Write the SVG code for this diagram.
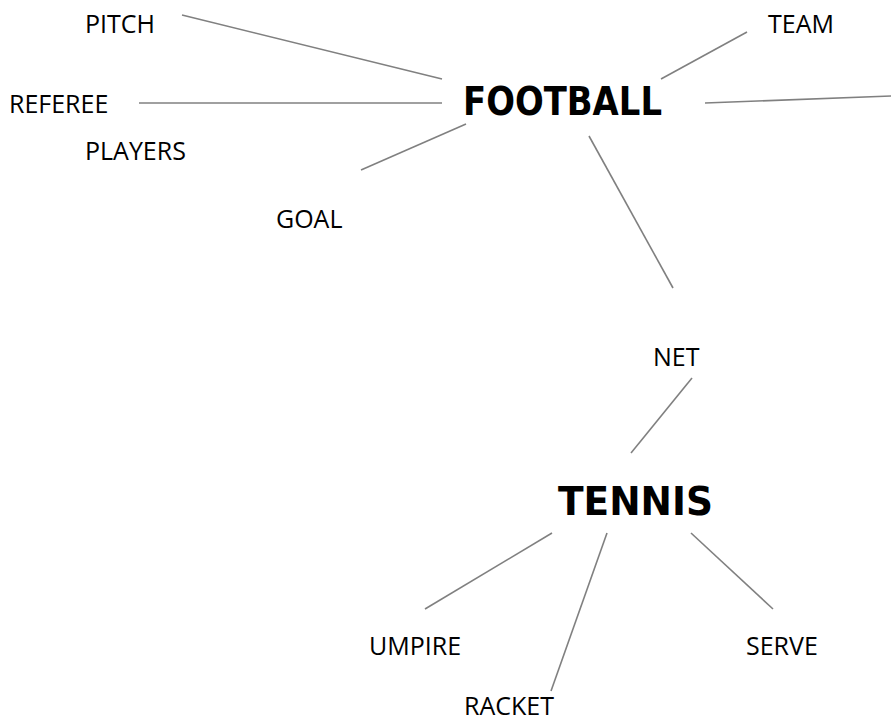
<svg xmlns="http://www.w3.org/2000/svg" width="891" height="724" viewBox="0 0 891 724">
<style>
.lbl{font-family:"Open Sans","Liberation Sans",sans-serif;font-size:25px;fill:#000}
.hub{font-family:"DejaVu Sans","Liberation Sans",sans-serif;font-weight:bold;font-size:39px;fill:#000}
.edge{stroke:#808080;stroke-width:1.6;fill:none}
</style>
<rect width="891" height="724" fill="#fff"/>
<g id="connectors">
<line class="edge" x1="182" y1="15" x2="442" y2="79"/>
<line class="edge" x1="747" y1="32" x2="661" y2="79"/>
<line class="edge" x1="139" y1="103" x2="442" y2="103"/>
<line class="edge" x1="705" y1="103" x2="891" y2="96"/>
<line class="edge" x1="361" y1="170" x2="466" y2="124"/>
<line class="edge" x1="589" y1="136" x2="673" y2="288"/>
<line class="edge" x1="692" y1="378" x2="631" y2="453"/>
<line class="edge" x1="552" y1="533" x2="425" y2="609"/>
<line class="edge" x1="607" y1="533" x2="551" y2="691"/>
<line class="edge" x1="691" y1="533" x2="773" y2="609"/>
</g>
<g id="football"><text class="hub" x="463" y="115" textLength="199" lengthAdjust="spacingAndGlyphs">FOOTBALL</text></g>
<g id="tennis"><text class="hub" x="558" y="515" textLength="155" lengthAdjust="spacingAndGlyphs">TENNIS</text></g>
<g id="pitch"><text class="lbl" x="85" y="33">PITCH</text></g>
<g id="team"><text class="lbl" x="768" y="33">TEAM</text></g>
<g id="referee"><text class="lbl" x="9" y="113">REFEREE</text></g>
<g id="players"><text class="lbl" x="85" y="160">PLAYERS</text></g>
<g id="goal"><text class="lbl" x="276" y="228">GOAL</text></g>
<g id="net"><text class="lbl" x="653" y="366">NET</text></g>
<g id="umpire"><text class="lbl" x="369" y="655">UMPIRE</text></g>
<g id="serve"><text class="lbl" x="746" y="655">SERVE</text></g>
<g id="racket"><text class="lbl" x="464" y="715">RACKET</text></g>
</svg>
